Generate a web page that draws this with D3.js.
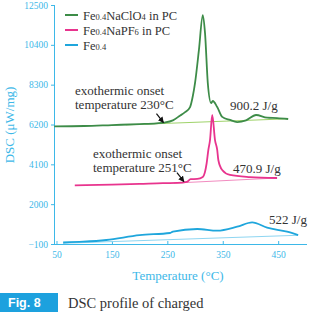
<!DOCTYPE html>
<html><head><meta charset="utf-8">
<script src="https://cdn.jsdelivr.net/npm/d3@7"></script>
<style>body{margin:0;background:#fff}svg{display:block}</style>
</head><body>
<svg id="c" width="310" height="312"></svg>
<script>
const xTicks=[50,150,250,350,450];
const yTicks=[-100,2000,4100,6200,8300,10400,12500];
const yTickLabels=["−100","2000","4100","6200","8300","10400","12500"];
const clo4=[[46,6100],[100,6120],[150,6170],[200,6220],[230,6260],[245,6300],[260,6420],[272,6650],[282,6850],[291,7120],[296,7700],[300,8390],[307,10130],[314,11970],[318,11020],[323,8390],[329,7330],[332,7440],[340,7120],[349,6600],[363,6440],[376,6330],[392,6420],[410,6700],[430,6560],[448,6540],[468,6490]];
const clo4Base=[[175,6180],[468,6500]];
const pf6=[[83,2990],[150,3030],[200,3070],[242,3110],[268,3120],[285,3170],[292,3320],[304,3330],[314,3430],[321,4170],[324,4860],[327,5380],[331,6700],[336,5380],[340,4860],[342,4330],[349,3800],[363,3540],[399,3430],[448,3380]];
const pf6Base=[[262,3110],[448,3380]];
const fe=[[62,-20],[98,20],[140,110],[200,370],[255,480],[260,550],[304,690],[340,600],[376,810],[403,1040],[430,760],[466,550],[486,370]];
const feBase=[[62,-60],[486,360]];
const enthalpy=["900.2 J/g","470.9 J/g","522 J/g"];

const SERIF="Liberation Serif", SANS="Liberation Sans";
const svg=d3.select("#c");
const x=d3.scaleLinear().domain([45.5,502]).range([54,307]);
const y=d3.scaleLinear().domain([-100,12500]).range([244,5]);
const axisCol="#3db8e8";

const ya=svg.append("g").attr("transform","translate(54,0)")
  .call(d3.axisLeft(y).tickValues(yTicks).tickFormat((d,i)=>yTickLabels[i]).tickSize(3).tickSizeOuter(0));
const xa=svg.append("g").attr("transform","translate(0,244)")
  .call(d3.axisBottom(x).tickValues(xTicks).tickFormat(d3.format("d")).tickSize(-3).tickSizeOuter(0).tickPadding(7));
[ya,xa].forEach(g=>{g.attr("font-family",null).attr("font-size",null);
  g.selectAll("path,line").attr("stroke",axisCol).attr("stroke-width",1);
  g.selectAll("text").attr("fill",axisCol).style("font-family",SERIF).style("font-size","9.5px");});
xa.select(".domain").attr("d","M54,0.5H307");
ya.select(".domain").attr("d","M0.5,5V244");

const line=d3.line().x(d=>x(d[0])).y(d=>y(d[1])).curve(d3.curveMonotoneX);
const base=(data,col)=>svg.append("path").attr("d",line(data)).attr("fill","none").attr("stroke",col).attr("stroke-width",1);
const curve=(data,col)=>svg.append("path").attr("d",line(data)).attr("fill","none").attr("stroke",col).attr("stroke-width",1.8);
base(clo4Base,"#9fd36a");base(pf6Base,"#f28cc0");base(feBase,"#8ed6f2");
curve(fe,"#1fa6dc");curve(pf6,"#e8348e");curve(clo4,"#3d8c48");

const leg=[{c:"#3d8c48",t:[["Fe",0],["0.4",1],["NaClO",0],["4",1],[" in PC",0]]},
 {c:"#e8348e",t:[["Fe",0],["0.4",1],["NaPF",0],["6",1],[" in PC",0]]},
 {c:"#1fa6dc",t:[["Fe",0],["0.4",1]]}];
leg.forEach((l,i)=>{const yy=15+i*15;
  svg.append("line").attr("x1",65).attr("x2",78).attr("y1",yy).attr("y2",yy).attr("stroke",l.c).attr("stroke-width",2);
  const t=svg.append("text").attr("x",83).attr("y",yy+4.5).style("font-family",SERIF).style("font-size","12.5px").attr("fill","#333");
  l.t.forEach(p=>t.append("tspan").text(p[0]).style("font-size",p[1]?"8.5px":"12.5px"));
});

const txt=(xx,yy,s,sz)=>svg.append("text").attr("x",xx).attr("y",yy).text(s).style("font-family",SERIF).style("font-size",(sz||13)+"px").attr("fill","#333");
const ann=(xx,yy,lines)=>lines.forEach((s,i)=>txt(xx,yy+i*14,s));
ann(75,94.5,["exothermic onset","temperature 230°C"]);
ann(93,157.5,["exothermic onset","temperature 251°C"]);
txt(230,109.5,enthalpy[0]);txt(233,172.5,enthalpy[1]);txt(269,223.5,enthalpy[2]);

const defs=svg.append("defs");
defs.append("marker").attr("id","ah").attr("viewBox","0 0 10 10").attr("refX",9).attr("refY",5)
  .attr("markerWidth",5).attr("markerHeight",5).attr("orient","auto")
  .append("path").attr("d","M0,0L10,5L0,10z").attr("fill","#111");
const arrow=(T,v)=>{const ex=x(T),ey=y(v)-1;
  svg.append("line").attr("x1",ex-7).attr("y1",ey-9).attr("x2",ex).attr("y2",ey).attr("stroke","#111").attr("stroke-width",1.2).attr("marker-end","url(#ah)");};
arrow(243,6250);arrow(280,3130);

svg.append("text").attr("transform","translate(14,125) rotate(-90)").attr("text-anchor","middle")
  .text("DSC (μW/mg)").style("font-family",SERIF).style("font-size","13px").attr("fill",axisCol);
svg.append("text").attr("x",178).attr("y",280).attr("text-anchor","middle")
  .text("Temperature (°C)").style("font-family",SERIF).style("font-size","13px").attr("fill",axisCol);

svg.append("rect").attr("x",0).attr("y",293).attr("width",58).attr("height",19).attr("fill","#1da1de");
svg.append("text").attr("x",8).attr("y",307).text("Fig. 8").style("font-family",SANS)
  .style("font-weight","bold").style("font-size","12.5px").attr("fill","#fff");
txt(68,307.5,"DSC profile of charged",14.5);
</script>
</body></html>
